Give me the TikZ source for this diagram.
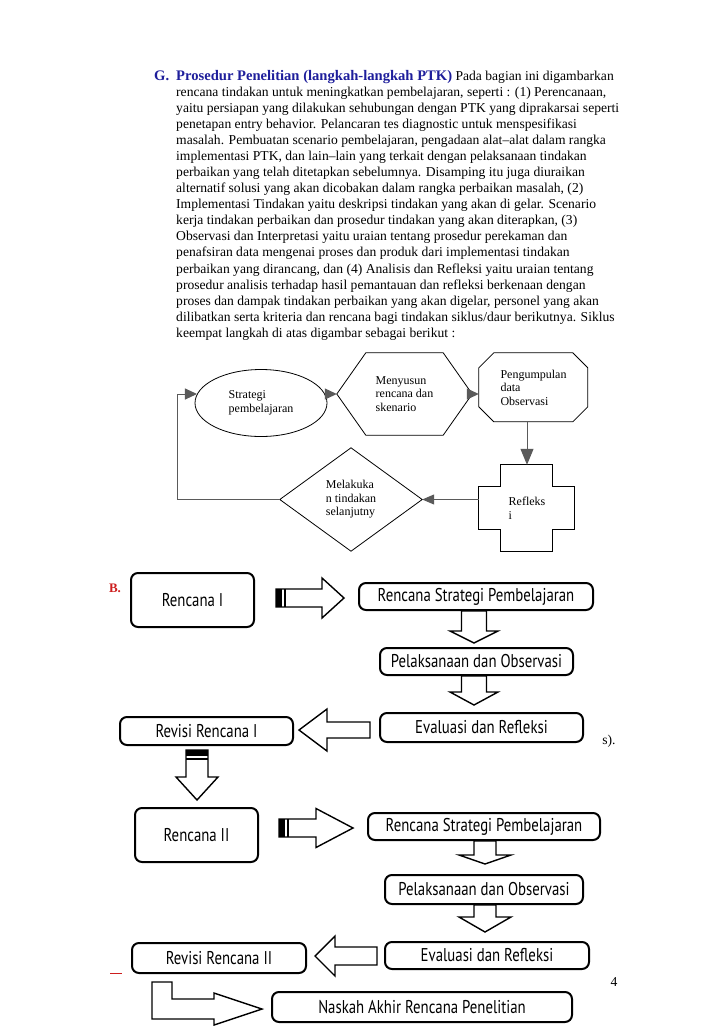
\documentclass[tikz,border=0pt]{standalone}
\usepackage{fontspec}
\setmainfont{Liberation Serif}
\newfontfamily\boxfont[FakeStretch=0.8]{PT Sans}
\usetikzlibrary{shapes.geometric, arrows.meta, calc, positioning}
\definecolor{headblue}{RGB}{30,30,155}
\definecolor{markred}{RGB}{205,30,30}
\definecolor{linegray}{RGB}{90,90,90}

\begin{document}
\begin{tikzpicture}[x=1pt, y=-1pt, line join=miter,
    shapeline/.style={draw, line width=0.8pt},
    flow/.style={draw=linegray, line width=1pt, -{Triangle[length=12pt, width=11pt]}},
    cycletext/.style={inner sep=0pt, align=left, font=\fontsize{12}{13.5}\selectfont},
    stepbox/.style={draw, line width=2pt, rounded corners=7pt, inner sep=0pt, font=\boxfont\fontsize{18.5}{21}\selectfont},
    blockarrow/.style={draw, line width=1.4pt, fill=white}]

    \useasboundingbox (0,0) rectangle (728,1031);

    % section text
    \node[anchor=north west, inner sep=0pt, align=left, font=\fontsize{13.6}{16.06}\selectfont] (para) at (176,70) {%
        \llap{\textcolor{headblue}{\bfseries\fontsize{14.6}{16.06}\selectfont G.}\hspace{7pt}}%
        \textcolor{headblue}{\bfseries\fontsize{14.6}{16.06}\selectfont Prosedur Penelitian (langkah-langkah PTK)} Pada bagian ini digambarkan\\
        rencana tindakan untuk meningkatkan pembelajaran, seperti : (1) Perencanaan,\\
        yaitu persiapan yang dilakukan sehubungan dengan PTK yang diprakarsai seperti\\
        penetapan entry behavior. Pelancaran tes diagnostic untuk menspesifikasi\\
        masalah. Pembuatan scenario pembelajaran, pengadaan alat–alat dalam rangka\\
        implementasi PTK, dan lain–lain yang terkait dengan pelaksanaan tindakan\\
        perbaikan yang telah ditetapkan sebelumnya. Disamping itu juga diuraikan\\
        alternatif solusi yang akan dicobakan dalam rangka perbaikan masalah, (2)\\
        Implementasi Tindakan yaitu deskripsi tindakan yang akan di gelar. Scenario\\
        kerja tindakan perbaikan dan prosedur tindakan yang akan diterapkan, (3)\\
        Observasi dan Interpretasi yaitu uraian tentang prosedur perekaman dan\\
        penafsiran data mengenai proses dan produk dari implementasi tindakan\\
        perbaikan yang dirancang, dan (4) Analisis dan Refleksi yaitu uraian tentang\\
        prosedur analisis terhadap hasil pemantauan dan refleksi berkenaan dengan\\
        proses dan dampak tindakan perbaikan yang akan digelar, personel yang akan\\
        dilibatkan serta kriteria dan rencana bagi tindakan siklus/daur berikutnya. Siklus\\
        keempat langkah di atas digambar sebagai berikut :};

    % cycle of four steps
    \node[ellipse, shapeline, minimum width=132pt, minimum height=67pt, cycletext] (strat) at (261,403) {Strategi\\pembelajaran};

    \node[cycletext, minimum width=135pt, minimum height=82pt] (susun) at (404.5,394) {Menyusun\\rencana dan\\skenario};
    \draw[shapeline] (susun.west) -- ([xshift=29pt]susun.north west) -- ([xshift=-29pt]susun.north east)
        -- (susun.east) -- ([xshift=-29pt]susun.south east) -- ([xshift=29pt]susun.south west) -- cycle;

    \node[cycletext, minimum width=109pt, minimum height=69pt] (kumpul) at (533.5,387.5) {Pengumpulan\\data\\Observasi};
    \draw[shapeline] (kumpul.north west) ++(15,0) -- ++(79,0) -- ++(15,15) -- ++(0,39) -- ++(-15,15)
        -- ++(-79,0) -- ++(-15,-15) -- ++(0,-39) -- cycle;

    \node[cycletext, minimum width=96pt, minimum height=87pt] (refl) at (527,508.5) {Refleks\\i};
    \draw[shapeline] (refl.north west) ++(22,0) -- ++(52,0) -- ++(0,22) -- ++(22,0) -- ++(0,43) -- ++(-22,0)
        -- ++(0,22) -- ++(-52,0) -- ++(0,-22) -- ++(-22,0) -- ++(0,-43) -- ++(22,0) -- cycle;

    \node[cycletext, minimum width=142pt, minimum height=103pt] (lanjut) at (351,499.5) {Melakuka\\n tindakan\\selanjutny};
    \draw[shapeline] (lanjut.west) -- (lanjut.north) -- (lanjut.east) -- (lanjut.south) -- cycle;

    % cycle arrows
    \draw[flow] (strat.8) -- (susun.west);
    \draw[flow] (susun.east) -- (susun.east -| kumpul.west);
    \draw[flow, -{Triangle[length=16pt, width=13pt]}] (refl.north |- kumpul.south) -- (refl.north);
    \draw[flow, -{Triangle[length=12pt, width=10pt]}] (refl.west |- lanjut.east) -- (lanjut.east);
    \coordinate (turn) at (177,499.5);
    \draw[flow] (lanjut.west) -- (turn) |- (strat.172);

    % side marks
    \node[inner sep=0pt, text=markred, font=\bfseries\fontsize{13}{15}\selectfont] (bmark) at (115,588) {B.};
    \node[inner sep=0pt, font=\fontsize{13.6}{15}\selectfont] (cut) at (609,741) {s).};
    \node[inner sep=0pt, font=\fontsize{13.6}{15}\selectfont] (pnum) at (614,982) {4};
    \draw[markred, line width=0.6pt] (110,973) -- (122,973);

    % first plan
    \node[stepbox, minimum width=123pt, minimum height=54pt] (ren1) at (192.5,600) {Rencana I};
    \node[stepbox, minimum width=234pt, minimum height=27pt] (rsp1) at (476,596.5) {Rencana Strategi Pembelajaran};
    \node[stepbox, minimum width=193pt, minimum height=27pt] (plo1) at (476.5,661.5) {Pelaksanaan dan Observasi};
    \node[stepbox, minimum width=203pt, minimum height=29pt] (evr1) at (481.5,727.5) {Evaluasi dan Refleksi};
    \node[stepbox, minimum width=173pt, minimum height=28pt] (rev1) at (206.5,731) {Revisi Rencana I};

    \coordinate (ra1) at (276,598);
    \draw[blockarrow] (ra1) ++(0,-9) -- ++(46,0) -- ++(0,-11) -- ++(22,20) -- ++(-22,20) -- ++(0,-11) -- ++(-46,0) -- cycle;
    \fill (ra1) ++(0,-9) rectangle ++(6,18);
    \draw[line width=1.2pt] (ra1) ++(9,-9) -- ++(0,18);

    \coordinate (da1) at (474,611);
    \draw[blockarrow] (da1) ++(-12.5,0) -- ++(25,0) -- ++(0,20) -- ++(11.5,0) -- ++(-24,12) -- ++(-24,-12) -- ++(11.5,0) -- cycle;
    \coordinate (da2) at (474,676);
    \draw[blockarrow] (da2) ++(-12.5,0) -- ++(25,0) -- ++(0,16) -- ++(11.5,0) -- ++(-24,13) -- ++(-24,-13) -- ++(11.5,0) -- cycle;

    \coordinate (la1) at (370,730);
    \draw[blockarrow] (la1) ++(0,-8) -- ++(-43,0) -- ++(0,-13) -- ++(-28,21) -- ++(28,21) -- ++(0,-13) -- ++(43,0) -- cycle;

    \coordinate (da3) at (197,750);
    \draw[blockarrow] (da3) ++(-11,0) -- ++(22,0) -- ++(0,27) -- ++(10,0) -- ++(-21,23) -- ++(-21,-23) -- ++(10,0) -- cycle;
    \fill (da3) ++(-11,0) rectangle ++(22,6);
    \draw[line width=1.2pt] (da3) ++(-11,9) -- ++(22,0);

    % second plan
    \node[stepbox, minimum width=123pt, minimum height=54pt] (ren2) at (196.5,835) {Rencana II};
    \node[stepbox, minimum width=232pt, minimum height=27pt] (rsp2) at (484,826.5) {Rencana Strategi Pembelajaran};
    \node[stepbox, minimum width=198pt, minimum height=29pt] (plo2) at (484,889.5) {Pelaksanaan dan Observasi};
    \node[stepbox, minimum width=204pt, minimum height=27pt] (evr2) at (487,955.5) {Evaluasi dan Refleksi};
    \node[stepbox, minimum width=174pt, minimum height=30pt] (rev2) at (219,958) {Revisi Rencana II};
    \node[stepbox, minimum width=300pt, minimum height=30pt] (nsk) at (422,1007) {Naskah Akhir Rencana Penelitian};

    \coordinate (ra2) at (279,828);
    \draw[blockarrow] (ra2) ++(0,-9) -- ++(37,0) -- ++(0,-10.5) -- ++(37,19.5) -- ++(-37,19.5) -- ++(0,-10.5) -- ++(-37,0) -- cycle;
    \fill (ra2) ++(0,-9) rectangle ++(6,18);
    \draw[line width=1.2pt] (ra2) ++(9,-9) -- ++(0,18);

    \coordinate (da4) at (485,841);
    \draw[blockarrow] (da4) ++(-11,0) -- ++(22,0) -- ++(0,14) -- ++(15,0) -- ++(-26,9) -- ++(-26,-9) -- ++(15,0) -- cycle;
    \coordinate (da5) at (485,905);
    \draw[blockarrow] (da5) ++(-11,0) -- ++(22,0) -- ++(0,12) -- ++(15,0) -- ++(-26,15) -- ++(-26,-15) -- ++(15,0) -- cycle;

    \coordinate (la2) at (377,956);
    \draw[blockarrow] (la2) ++(0,-9) -- ++(-42,0) -- ++(0,-11) -- ++(-20,20) -- ++(20,20) -- ++(0,-11) -- ++(42,0) -- cycle;

    \coordinate (lr) at (152,982);
    \draw[blockarrow] (lr) -- ++(20,0) -- ++(0,17) -- ++(42,0) -- ++(0,-6) -- ++(48,16) -- ++(-48,16) -- ++(0,-6) -- ++(-62,0) -- cycle;
\end{tikzpicture}
\end{document}
